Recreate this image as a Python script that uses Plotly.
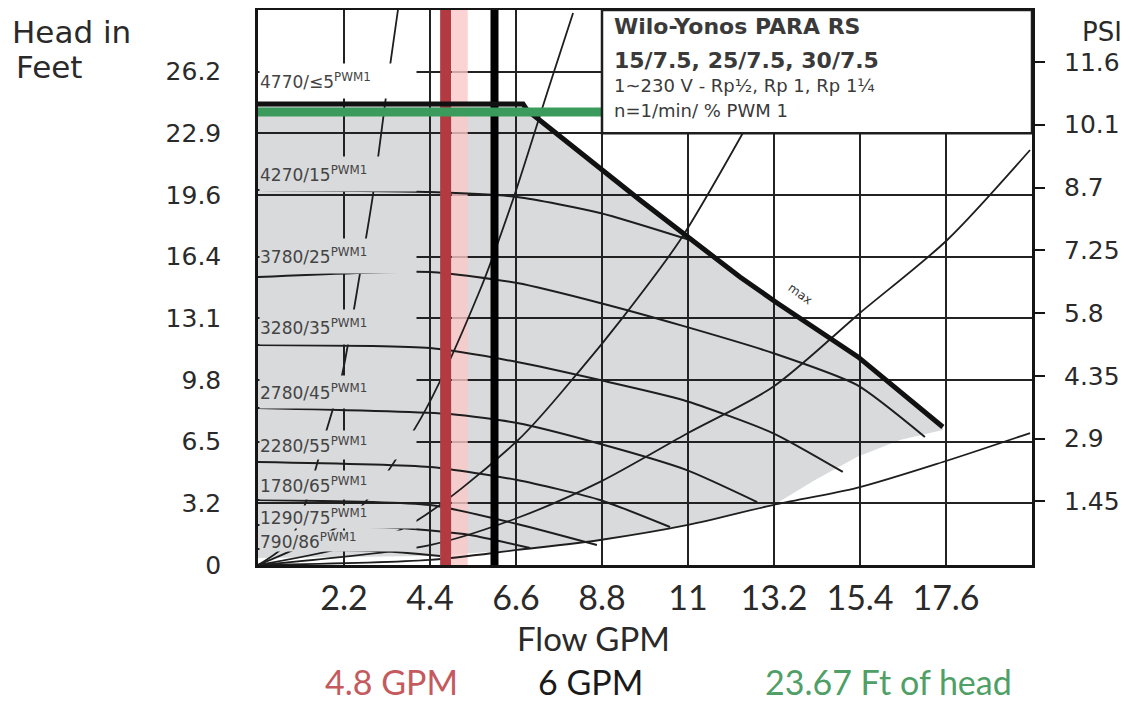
import plotly.graph_objects as go

# ---------------- axis ticks ----------------
flow_tick_vals = [2.2, 4.4, 6.6, 8.8, 11.0, 13.2, 15.4, 17.6]
flow_tick_text = ["2.2", "4.4", "6.6", "8.8", "11", "13.2", "15.4", "17.6"]
head_tick_vals = [0, 3.281, 6.562, 9.842, 13.123, 16.404, 19.685, 22.966, 26.246]
head_tick_text = ["0", "3.2", "6.5", "9.8", "13.1", "16.4", "19.6", "22.9", "26.2"]
psi_tick_vals = [1.45, 2.9, 4.35, 5.8, 7.25, 8.7, 10.15, 11.6]
psi_tick_text = ["1.45", "2.9", "4.35", "5.8", "7.25", "8.7", "10.1", "11.6"]

flow_range = [0, 19.8]
head_range = [0, 29.527]
psi_range = [-0.02, 12.8]

# ---------------- pump curves (flow GPM, head ft) ----------------
max_flow = [0, 6.78, 6.88, 9.77, 12.33, 13.28, 15.35, 17.52]
max_head = [24.53, 24.53, 24.21, 19.42, 15.32, 13.94, 11.07, 7.34]

speed_labels = ["4770/≤5", "4270/15", "3780/25", "3280/35", "2780/45",
                "2280/55", "1780/65", "1290/75", "790/86"]

c4270_flow = [0, 4.40, 6.63, 8.75, 11.05]
c4270_head = [19.95, 19.84, 19.58, 18.73, 17.29]
c3780_flow = [0, 4.40, 6.63, 8.75, 10.87, 13.17, 15.32, 17.06]
c3780_head = [15.32, 15.59, 15.00, 13.94, 12.72, 11.28, 9.58, 6.81]
c3280_flow = [0, 4.40, 6.63, 8.75, 10.87, 13.17, 14.96]
c3280_head = [11.70, 11.54, 10.80, 9.84, 8.78, 7.02, 4.95]
c2780_flow = [0, 4.91, 6.63, 8.67, 10.97, 12.77]
c2780_head = [8.35, 8.03, 7.55, 6.49, 5.05, 3.35]
c2280_flow = [0, 4.40, 6.63, 8.75, 10.54]
c2280_head = [5.48, 5.21, 4.52, 3.46, 2.02]
c1780_flow = [0, 4.40, 6.63, 8.67]
c1780_head = [3.46, 3.19, 2.18, 1.06]
c1290_flow = [0, 3.63, 5.42, 6.96]
c1290_head = [2.13, 1.97, 1.60, 0.90]
c790_flow = [0, 3.12, 4.66]
c790_head = [0.85, 0.74, 0.48]

# ---------------- system curves ----------------
sys1_flow = [0, 0.82, 1.77, 2.15, 2.61, 2.94, 3.38, 3.58]
sys1_head = [0, 1.33, 7.29, 10.11, 15.53, 19.68, 26.60, 29.53]
sys2_flow = [0, 2.35, 4.14, 5.68, 6.52, 7.42, 8.06]
sys2_head = [0, 2.50, 7.71, 14.63, 19.42, 25.27, 29.37]
sys3_flow = [0, 3.63, 6.63, 8.24, 9.34, 10.80, 12.40]
sys3_head = [0, 1.86, 6.60, 10.37, 13.19, 17.29, 22.97]
sys4_flow = [0, 4.40, 6.63, 8.75, 11.00, 13.17, 15.40, 17.63, 19.75]
sys4_head = [0, 1.06, 2.50, 4.42, 7.02, 9.47, 13.41, 17.29, 22.08]
sys5_flow = [0, 4.40, 6.63, 8.75, 11.00, 13.17, 15.32, 17.52, 19.75]
sys5_head = [0, 0.27, 0.80, 1.33, 2.13, 3.19, 4.10, 5.48, 7.02]

# ---------------- operating region (grey) ----------------
region_flow = [0, 6.78, 6.88, 9.77, 12.33, 13.28, 15.35, 17.52, 17.52, 16.42,
               15.32, 14.25, 13.28, 11.00, 8.75, 6.63, 4.40, 0]
region_head = [24.53, 24.53, 24.21, 19.42, 15.32, 13.94, 11.07, 7.34, 7.18, 6.65,
               5.75, 4.52, 3.30, 2.13, 1.33, 0.80, 0.48, 0.37]

# ---------------- operating point markers ----------------
flow_red = 4.8
flow_black = 6.05
head_green = 24.10
green_end_flow = 8.88
legend_box_flow = [8.8, 19.8]
legend_box_head = [22.966, 29.527]

# ---------------- styles / positions ----------------
label_head_pos = [25.75, 20.80, 16.44, 12.66, 9.20, 6.38, 4.26, 2.55, 1.28]
label_box_h = [34, 34, 34, 34, 32, 28, 28, 22, 20]
GREY = "#d9dadc"
CURVE = "#1e1e1e"

fig = go.Figure()

# pink glow next to the red bar
fig.add_trace(go.Scatter(x=[flow_red + 0.36, flow_red + 0.36], y=head_range, mode="lines",
                         line=dict(color="rgba(250,200,200,0.8)", width=16),
                         hoverinfo="skip", showlegend=False))

for fx, hy in [(sys1_flow, sys1_head), (sys2_flow, sys2_head), (sys3_flow, sys3_head),
               (sys4_flow, sys4_head), (sys5_flow, sys5_head)]:
    fig.add_trace(go.Scatter(x=fx, y=hy, mode="lines",
                             line=dict(color=CURVE, width=1.8, shape="spline", smoothing=0.8),
                             hoverinfo="skip", showlegend=False))

for fx, hy in [(c4270_flow, c4270_head), (c3780_flow, c3780_head), (c3280_flow, c3280_head),
               (c2780_flow, c2780_head), (c2280_flow, c2280_head), (c1780_flow, c1780_head),
               (c1290_flow, c1290_head), (c790_flow, c790_head)]:
    fig.add_trace(go.Scatter(x=fx, y=hy, mode="lines",
                             line=dict(color=CURVE, width=2, shape="spline", smoothing=0.6),
                             hoverinfo="skip", showlegend=False))

# red bar (4.8 GPM)
fig.add_trace(go.Scatter(x=[flow_red, flow_red], y=head_range, mode="lines",
                         line=dict(color="#b23a40", width=11), hoverinfo="skip", showlegend=False))
# black bar (6 GPM)
fig.add_trace(go.Scatter(x=[flow_black, flow_black], y=head_range, mode="lines",
                         line=dict(color="#000000", width=8), hoverinfo="skip", showlegend=False))
# max curve
fig.add_trace(go.Scatter(x=max_flow, y=max_head, mode="lines",
                         line=dict(color="#111111", width=5), hoverinfo="skip", showlegend=False))
# green head line
fig.add_trace(go.Scatter(x=[0, green_end_flow], y=[head_green, head_green], mode="lines",
                         line=dict(color="#3b9b5d", width=9), hoverinfo="skip", showlegend=False))
# invisible trace to anchor the PSI axis
fig.add_trace(go.Scatter(x=[flow_range[0], flow_range[0]], y=psi_range, yaxis="y2", mode="lines",
                         line=dict(width=0), opacity=0, hoverinfo="skip", showlegend=False))

region_path = "M " + " L ".join(f"{f},{h}" for f, h in zip(region_flow, region_head)) + " Z"
shapes = [
    dict(type="path", path=region_path, xref="x", yref="y", layer="below",
         fillcolor=GREY, line=dict(width=0)),
    dict(type="rect", x0=legend_box_flow[0], x1=legend_box_flow[1],
         y0=legend_box_head[0], y1=legend_box_head[1], xref="x", yref="y", layer="above",
         fillcolor="white", line=dict(color="#1e1e1e", width=2.5)),
]

annotations = []
for i, (lab, hy, bh) in enumerate(zip(speed_labels, label_head_pos, label_box_h)):
    annotations.append(dict(
        x=0.03, y=hy, xref="x", yref="y", xanchor="left", yanchor="middle",
        text=f"{lab}<sup>PWM1</sup>", showarrow=False, align="left", valign="middle",
        width=156, height=bh, bgcolor="white" if i == 0 else GREY, borderpad=0,
        font=dict(family="DejaVu Sans", size=17, color="#444444")))

annotations.append(dict(x=13.87, y=14.4, xref="x", yref="y", text="max", showarrow=False,
                        textangle=36, font=dict(family="DejaVu Sans", size=12, color="#333")))

box_lines = [
    ("<b>Wilo-Yonos PARA RS</b>", 0.9694, 22),
    ("<b>15/7.5, 25/7.5, 30/7.5</b>", 0.9099, 22),
    ("1~230 V - Rp½, Rp 1, Rp 1¼", 0.8631, 18),
    ("n=1/min/ % PWM 1", 0.8198, 18),
]
for txt, yy, sz in box_lines:
    annotations.append(dict(x=0.4574, y=yy, xref="paper", yref="paper", xanchor="left",
                            yanchor="middle", text=txt, showarrow=False,
                            font=dict(family="DejaVu Sans", size=sz, color="#3a3a3a")))

annotations += [
    dict(x=-0.3204, y=0.9604, xref="paper", yref="paper", xanchor="left", yanchor="middle",
         text="Head in", showarrow=False, font=dict(family="DejaVu Sans", size=31, color="#2a2a2a")),
    dict(x=-0.3152, y=0.8973, xref="paper", yref="paper", xanchor="left", yanchor="middle",
         text="Feet", showarrow=False, font=dict(family="DejaVu Sans", size=31, color="#2a2a2a")),
    dict(x=1.0620, y=0.9604, xref="paper", yref="paper", xanchor="left", yanchor="middle",
         text="PSI", showarrow=False, font=dict(family="DejaVu Sans", size=26, color="#2a2a2a")),
    dict(x=0.4341, y=-0.1315, xref="paper", yref="paper", xanchor="center", yanchor="middle",
         text="Flow GPM", showarrow=False, font=dict(family="Lato", size=33, color="#2a2a2a")),
    dict(x=0.1731, y=-0.2500, xref="paper", yref="paper", xanchor="center", yanchor="bottom",
         text="4.8 GPM", showarrow=False, font=dict(family="Lato", size=34, color="#c45a5d")),
    dict(x=0.4302, y=-0.2500, xref="paper", yref="paper", xanchor="center", yanchor="bottom",
         text="6 GPM", showarrow=False, font=dict(family="Lato", size=34, color="#1a1a1a")),
    dict(x=0.8140, y=-0.2500, xref="paper", yref="paper", xanchor="center", yanchor="bottom",
         text="23.67 Ft of head", showarrow=False, font=dict(family="Lato", size=34, color="#4f9f66")),
]

# page has an 8px body margin: figure is sized to fit the 1137x713 window
fig.update_layout(
    width=1121, height=697,
    margin=dict(l=250, r=97, t=2, b=140, autoexpand=False),
    paper_bgcolor="white", plot_bgcolor="white",
    showlegend=False,
    shapes=shapes, annotations=annotations,
    xaxis=dict(range=flow_range, tickvals=flow_tick_vals, ticktext=flow_tick_text,
               showgrid=True, gridcolor="#222222", gridwidth=2.2, zeroline=False,
               showline=True, mirror=True, linecolor="#151515", linewidth=2.5,
               ticks="", ticklabelstandoff=1,
               tickfont=dict(family="Lato", size=34, color="#2a2a2a")),
    yaxis=dict(range=head_range, tickvals=head_tick_vals, ticktext=head_tick_text,
               showgrid=True, gridcolor="#222222", gridwidth=2.2, zeroline=False,
               showline=True, mirror=True, linecolor="#151515", linewidth=2.5,
               ticks="", ticklabelstandoff=29,
               tickfont=dict(family="DejaVu Sans", size=25, color="#2a2a2a")),
    yaxis2=dict(range=psi_range, tickvals=psi_tick_vals, ticktext=psi_tick_text,
                overlaying="y", side="right", showgrid=False, zeroline=False,
                showline=False, ticks="outside", ticklen=12, tickwidth=2, tickcolor="#151515",
                ticklabelstandoff=14,
                tickfont=dict(family="DejaVu Sans", size=25, color="#2a2a2a")),
)

fig.write_html("out.html")
